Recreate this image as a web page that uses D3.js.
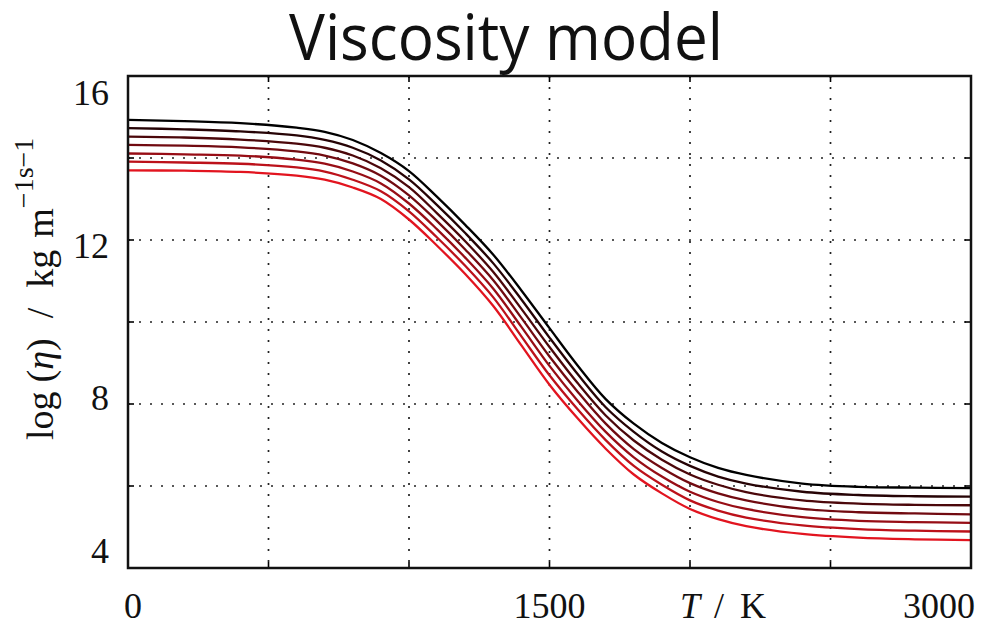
<!DOCTYPE html>
<html>
<head>
<meta charset="utf-8">
<script src="https://cdn.jsdelivr.net/npm/d3@7"></script>
<style>
  body { margin: 0; background: #fff; }
  svg { display: block; }
</style>
</head>
<body>
<svg id="chart" width="990" height="625"></svg>
<script>
// temperature samples (K)
var temps = [0, 200, 400, 600, 700, 800, 900, 1000, 1100, 1200, 1300, 1400, 1500, 1600, 1700, 1800, 1900, 2000, 2100, 2200, 2400, 2600, 2800, 3000];

// log(eta) curves, top (black) to bottom (red)
var eta0 = [14.93, 14.90, 14.85, 14.74, 14.64, 14.44, 14.12, 13.68, 13.05, 12.37, 11.64, 10.77, 9.85, 8.94, 8.12, 7.52, 7.05, 6.70, 6.44, 6.27, 6.06, 5.98, 5.96, 5.95];
var eta1 = [14.73, 14.70, 14.65, 14.55, 14.44, 14.25, 13.94, 13.48, 12.85, 12.17, 11.43, 10.55, 9.62, 8.73, 7.92, 7.32, 6.84, 6.49, 6.23, 6.06, 5.86, 5.78, 5.75, 5.74];
var eta2 = [14.52, 14.50, 14.45, 14.35, 14.25, 14.06, 13.75, 13.29, 12.65, 11.97, 11.22, 10.32, 9.39, 8.51, 7.72, 7.11, 6.64, 6.28, 6.03, 5.85, 5.65, 5.57, 5.54, 5.53];
var eta3 = [14.32, 14.30, 14.26, 14.16, 14.06, 13.87, 13.57, 13.09, 12.46, 11.77, 11.02, 10.10, 9.16, 8.30, 7.52, 6.90, 6.44, 6.07, 5.82, 5.65, 5.44, 5.36, 5.33, 5.31];
var eta4 = [14.11, 14.09, 14.06, 13.96, 13.86, 13.67, 13.38, 12.89, 12.26, 11.57, 10.81, 9.88, 8.93, 8.08, 7.32, 6.70, 6.23, 5.86, 5.61, 5.44, 5.24, 5.15, 5.12, 5.10];
var eta5 = [13.91, 13.89, 13.86, 13.77, 13.67, 13.47, 13.19, 12.70, 12.06, 11.37, 10.60, 9.65, 8.70, 7.87, 7.12, 6.49, 6.03, 5.65, 5.40, 5.23, 5.04, 4.95, 4.91, 4.89];
var eta6 = [13.70, 13.69, 13.66, 13.57, 13.47, 13.28, 13.00, 12.50, 11.86, 11.17, 10.39, 9.43, 8.47, 7.65, 6.91, 6.28, 5.82, 5.44, 5.19, 5.02, 4.83, 4.74, 4.70, 4.68];

var xTicks = [0, 500, 1000, 1500, 2000, 2500, 3000];
var xLabels = [0, 1500, 3000];
var yTicks = [4, 6, 8, 10, 12, 14, 16];
var yLabels = [4, 8, 12, 16];

var series = [eta0, eta1, eta2, eta3, eta4, eta5, eta6];

var plot = { left: 128, right: 971, top: 76, bottom: 568 };

var svg = d3.select("#chart");
svg.append("rect").attr("width", 990).attr("height", 625).attr("fill", "#fff");

var x = d3.scaleLinear().domain([0, 3000]).range([plot.left, plot.right]);
var y = d3.scaleLinear().domain([4, 16]).range([plot.bottom, plot.top]);
// tick labels in the picture sit on a slightly squeezed scale
var yLab = d3.scaleLinear().domain([4, 16]).range([563, 105]);

var color = d3.scaleLinear().domain([0, series.length - 1])
    .range(["#000000", "#e2141f"]).interpolate(d3.interpolateRgb);

// dotted grid
var grid = svg.append("g").attr("stroke", "#222").attr("stroke-width", 1.7)
    .attr("stroke-dasharray", "2,9");
grid.selectAll(".gx").data(xTicks.slice(1, -1)).enter().append("line")
    .attr("x1", d => x(d)).attr("x2", d => x(d))
    .attr("y1", plot.top).attr("y2", plot.bottom);
grid.selectAll(".gy").data(yTicks.slice(1, -1)).enter().append("line")
    .attr("x1", plot.left).attr("x2", plot.right)
    .attr("y1", d => y(d)).attr("y2", d => y(d));

// curves
var line = d3.line()
    .x((d, i) => x(temps[i]))
    .y(d => y(d))
    .curve(d3.curveCatmullRom.alpha(0.5));

svg.append("g").selectAll("path").data(series).enter().append("path")
    .attr("d", line)
    .attr("fill", "none")
    .attr("stroke", (d, i) => color(i))
    .attr("stroke-width", 2.3);

// inward ticks on all sides
var ticks = svg.append("g").attr("stroke", "#000").attr("stroke-width", 1.6);
xTicks.slice(1, -1).forEach(function (t) {
    ticks.append("line").attr("x1", x(t)).attr("x2", x(t)).attr("y1", plot.bottom).attr("y2", plot.bottom - 6);
    ticks.append("line").attr("x1", x(t)).attr("x2", x(t)).attr("y1", plot.top).attr("y2", plot.top + 6);
});
yTicks.slice(1, -1).forEach(function (t) {
    ticks.append("line").attr("y1", y(t)).attr("y2", y(t)).attr("x1", plot.left).attr("x2", plot.left + 6);
    ticks.append("line").attr("y1", y(t)).attr("y2", y(t)).attr("x1", plot.right).attr("x2", plot.right - 6);
});

// frame
svg.append("rect")
    .attr("x", plot.left).attr("y", plot.top)
    .attr("width", plot.right - plot.left).attr("height", plot.bottom - plot.top)
    .attr("fill", "none").attr("stroke", "#111").attr("stroke-width", 2.5);

var serif = "'Liberation Serif', 'DejaVu Serif', serif";

// y tick labels
svg.append("g").selectAll("text").data(yLabels).enter().append("text")
    .attr("x", 109).attr("y", d => yLab(d))
    .attr("text-anchor", "end")
    .attr("font-family", serif).attr("font-size", 36).attr("fill", "#111")
    .text(d => d);

// x tick labels
var anchors = ["start", "middle", "end"];
var nudge = [-4, 0, 4];
svg.append("g").selectAll("text").data(xLabels).enter().append("text")
    .attr("x", (d, i) => x(d) + nudge[i]).attr("y", 618)
    .attr("text-anchor", (d, i) => anchors[i])
    .attr("font-family", serif).attr("font-size", 36).attr("fill", "#111")
    .text(d => d);

// x axis title
var xt = svg.append("text").attr("x", 680).attr("y", 618)
    .attr("font-family", serif).attr("font-size", 36).attr("fill", "#111");
xt.append("tspan").attr("font-style", "italic").text("T");
xt.append("tspan").attr("dx", 14).text("/");
xt.append("tspan").attr("dx", 16).text("K");

// y axis title
var yt = svg.append("text")
    .attr("transform", "translate(53,440) rotate(-90)")
    .attr("font-family", serif).attr("font-size", 38).attr("fill", "#111");
yt.append("tspan").text("log");
yt.append("tspan").attr("dx", 9).text("(");
yt.append("tspan").attr("font-style", "italic").text("η");
yt.append("tspan").text(")");
yt.append("tspan").attr("dx", 20).text("/");
yt.append("tspan").attr("dx", 20).text("kg");
yt.append("tspan").attr("dx", 12).text("m");
yt.append("tspan").attr("dy", -20).attr("font-size", 28).text("−1");
yt.append("tspan").attr("font-size", 28).text("s");
yt.append("tspan").attr("font-size", 28).text("−1");

// title
svg.append("text").attr("x", 506).attr("y", 60)
    .attr("text-anchor", "middle")
    .attr("font-family", "'Open Sans', 'Noto Sans', sans-serif")
    .attr("font-size", 64).attr("fill", "#111")
    .attr("textLength", 434).attr("lengthAdjust", "spacingAndGlyphs")
    .text("Viscosity model");
</script>
</body>
</html>
